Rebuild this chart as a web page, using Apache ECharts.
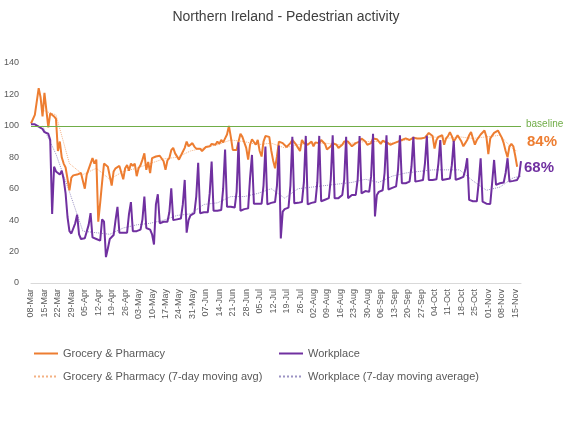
<!DOCTYPE html>
<html>
<head>
<meta charset="utf-8">
<script src="https://cdn.jsdelivr.net/npm/echarts@6/dist/echarts.min.js"></script>
<style>
html, body { margin: 0; padding: 0; background: #fff; }
#chart { width: 572px; height: 427px; }
</style>
</head>
<body>
<div id="chart"></div>
<script>
// daily labels from 08-Mar, one per day
var months = ['Jan','Feb','Mar','Apr','May','Jun','Jul','Aug','Sep','Oct','Nov','Dec'];
var dayLabels = [];
for (var i = 0; i < 256; i++) {
    var dt = new Date(2020, 2, 8 + i);
    var dd = dt.getDate() < 10 ? '0' + dt.getDate() : '' + dt.getDate();
    dayLabels.push(dd + '-' + months[dt.getMonth()]);
}

// Grocery & Pharmacy, % of baseline (ends two days before workplace)
var grocery = [
    101.5, 102, 107, 107, 124, 118, 106,
    121, 110, 99, 108, 109, 106, 104.5,
    84, 90, 80, 76, 73.5, 73, 59,
    67, 68.5, 68, 69, 70, 70, 69,
    60, 69, 72.5, 76, 79.5, 76, 78.5,
    39, 51, 64, 76, 75, 74, 73,
    62, 71, 73, 73.5, 74.5, 75, 66,
    73, 75, 71.5, 76, 74.5, 76, 68,
    73, 75, 78.5, 82.5, 72, 77, 70,
    79.5, 80.5, 80.5, 80.5, 81, 80, 77.5,
    72, 78, 79.5, 84.5, 86, 82.5, 82.5,
    78.5, 78, 83.5, 86, 90, 87, 88,
    89, 86.8, 85.5, 84.5, 85.5, 84, 83.5,
    86.5, 87.5, 87, 88.5, 89, 88, 90,
    88.5, 91, 89.5, 92, 94.5, 100, 92.8,
    84.7, 85.5, 84.7, 90, 95, 93, 92,
    86, 78.5, 88, 91.5, 90.5, 88, 91,
    84, 80.5, 90, 93.5, 94.5, 93, 84.5,
    78, 73, 80.5, 90, 91, 89, 88.5,
    86.5, 86, 89, 91, 91.5, 88, 86,
    84, 91, 89, 90, 88, 89, 90,
    87, 89.5, 90, 89, 91, 90, 88.5,
    85, 86, 87, 89, 90, 88, 86,
    85, 88, 90, 90.7, 90, 89.5, 87,
    86, 89, 89.5, 90, 92, 93, 90,
    88, 86.8, 89, 92, 92.5, 91.5, 91,
    88.5, 90.5, 90, 89.5, 89, 88, 87.5,
    89, 90, 90, 90.5, 91, 91, 92,
    91.5, 91, 92, 92.5, 92, 92, 92.5,
    92, 92.5, 92.5, 94, 95.5, 96, 93.5,
    85.5, 91, 93, 92.5, 94, 88, 92,
    93.5, 96, 93.5, 90, 92, 94, 95,
    90, 87, 89, 91, 94, 96, 92,
    88, 91, 92, 94.5, 93.5, 97, 93,
    82, 92, 93, 95.5, 94.5, 97, 96,
    92.5, 89, 84, 80, 87, 88.5, 87,
    81, 74
];

// Workplace, % of baseline
var workplace = [
    101, 101.5, 101, 100, 99.5, 99, 98,
    96, 95.5, 95, 91, 44, 74, 71,
    71, 69, 71.5, 66, 57, 42, 33,
    31.5, 31, 38, 43.5, 31, 28, 28,
    28.5, 29, 37, 44.5, 29, 28.5, 28,
    27.5, 27, 40.5, 39, 16.5, 22, 28,
    29, 30.5, 40, 48.5, 32, 32, 32,
    32, 32, 44, 51.5, 33, 33, 33,
    33, 34, 40.5, 55, 35, 34.5, 34,
    31, 24.5, 50, 56.5, 38, 39, 39,
    39, 39, 45, 60.3, 40, 40, 40.5,
    40.5, 41, 50, 65.6, 32, 40, 43,
    44, 44.4, 55, 76.5, 44.4, 44.5, 45,
    45, 45, 57, 77.3, 46, 46, 46,
    46.5, 46.5, 60, 85, 48.6, 48.6, 48.5,
    48.5, 48, 58, 89.5, 46, 46.5, 47,
    47, 47.5, 67, 81.5, 50.5, 50.5, 50.5,
    50.5, 50.5, 62, 86.8, 50, 50.5, 51,
    51, 51.5, 62, 87.5, 28.4, 45.4, 47,
    47.5, 48, 62, 93, 50.7, 51, 51,
    51.5, 51.5, 64, 93.6, 50, 50.5, 51,
    51, 51.5, 64, 93.6, 52, 52.5, 53,
    54, 54, 66, 94, 54, 53.5, 54,
    54.5, 56, 66, 93, 54, 54, 56,
    56, 56, 66, 93.5, 57, 58, 58.5,
    59, 58, 68, 95, 42.3, 56, 58,
    59, 59, 70, 94, 59.5, 60, 60.5,
    61, 61.5, 72, 94, 63.5, 63.5, 63.5,
    64, 64.5, 74, 93, 64.5, 65, 65,
    65.5, 65.5, 76, 93.6, 65.5, 65.5, 65.5,
    66, 66, 76, 91, 65.5, 65.5, 66,
    66, 66.5, 75, 90.5, 65.6, 66, 66.5,
    67, 67.5, 72, 79.4, 52.9, 52.5, 52,
    52, 52, 64, 79.4, 51.8, 51, 50.5,
    50.3, 50.3, 64, 78.3, 62.4, 63, 63.5,
    63.5, 64, 70, 79.4, 64.5, 65, 65,
    65.5, 65.6, 68, 77.5
];

// 7-day moving averages (day index, value)
var groceryAvgDays = [6, 13, 20, 27, 34, 41, 48, 55, 62, 69, 76, 83, 90, 97, 104, 111, 118, 125, 132, 139, 146, 153, 160, 167, 174, 181, 188, 195, 202, 209, 216, 223, 230, 237, 244, 251, 253];
var groceryAvg = [110, 107, 76, 69, 73, 66, 71, 73, 76, 79, 80, 84, 86, 88, 91, 90, 88, 89, 86, 88, 89, 89, 88, 89, 90, 90, 89, 91, 92, 93, 92, 93, 92, 93, 94, 85, 84];
var workplaceAvgDays = [6, 13, 20, 27, 34, 41, 48, 55, 62, 69, 76, 83, 90, 97, 104, 111, 118, 125, 132, 139, 146, 153, 160, 167, 174, 181, 188, 195, 202, 209, 216, 223, 230, 237, 244, 251, 255];
var workplaceAvg = [100, 82, 58, 33, 32, 31, 35, 37, 38, 40, 43, 44, 50, 51, 55, 55, 57, 60, 54, 60, 61, 62, 63, 64, 66, 64, 68, 70, 71, 72, 72, 72, 65, 59, 61, 67, 68];

var baseline = 100;

function pairs(days, vals) {
    var out = [];
    for (var i = 0; i < days.length; i++) out.push([days[i], vals[i]]);
    return out;
}

var myChart = echarts.init(document.getElementById('chart'));

// legend: one per item so the two columns line up like the original
var legendText = { fontSize: 11, color: '#595959', fontFamily: 'Liberation Sans' };
function legendItem(name, left, top) {
    return {
        data: [name], left: left, top: top,
        itemWidth: 24, itemHeight: 12,
        itemStyle: { opacity: 0 },
        textStyle: legendText,
        selectedMode: false
    };
}

var option = {
    animation: false,
    textStyle: { fontFamily: 'Liberation Sans' },
    title: {
        text: 'Northern Ireland - Pedestrian activity',
        left: 'center',
        top: 5,
        textStyle: { fontSize: 14, fontWeight: 'normal', color: '#404040' }
    },
    grid: { left: 31, right: 51, top: 63, bottom: 144 },
    legend: [
        legendItem('Grocery & Pharmacy', 28, 343),
        legendItem('Workplace', 273, 343),
        legendItem('Grocery & Pharmacy (7-day moving avg)', 28, 366),
        legendItem('Workplace (7-day moving average)', 273, 366)
    ],
    xAxis: {
        type: 'category',
        boundaryGap: false,
        data: dayLabels,
        axisLine: { lineStyle: { color: '#D9D9D9' } },
        axisTick: { show: false },
        axisLabel: { interval: 6, rotate: 90, fontSize: 9, color: '#595959', margin: 6 }
    },
    yAxis: {
        type: 'value',
        min: 0,
        max: 140,
        interval: 20,
        splitLine: { show: false },
        axisLine: { show: false },
        axisTick: { show: false },
        axisLabel: { fontSize: 9, color: '#595959', margin: 12 }
    },
    series: [
        {
            name: 'Grocery & Pharmacy',
            type: 'line',
            data: grocery,
            symbol: 'none',
            color: '#ED7D31',
            lineStyle: { color: '#ED7D31', width: 2 },
            z: 3,
            markLine: {
                silent: true,
                symbol: ['none', 'none'],
                label: { show: false },
                lineStyle: { color: '#70AD47', width: 1.2, type: 'solid' },
                data: [{ yAxis: baseline }]
            }
        },
        {
            name: 'Workplace',
            type: 'line',
            data: workplace,
            symbol: 'none',
            color: '#7030A0',
            lineStyle: { color: '#7030A0', width: 2 },
            z: 4
        },
        {
            name: 'Grocery & Pharmacy (7-day moving avg)',
            type: 'line',
            data: pairs(groceryAvgDays, groceryAvg),
            symbol: 'none',
            color: '#F4B183',
            lineStyle: { color: '#F4B183', width: 1, type: 'dotted' },
            z: 2
        },
        {
            name: 'Workplace (7-day moving average)',
            type: 'line',
            data: pairs(workplaceAvgDays, workplaceAvg),
            symbol: 'none',
            color: '#9C93C4',
            lineStyle: { color: '#9C93C4', width: 1, type: 'dotted' },
            z: 2
        }
    ],
    graphic: [
        { type: 'text', left: 526, top: 119, style: { text: 'baseline', fill: '#70AD47', fontSize: 10, fontFamily: 'Liberation Sans' } },
        { type: 'text', left: 527, top: 134, style: { text: '84%', fill: '#ED7D31', fontSize: 15, fontWeight: 'bold', fontFamily: 'Liberation Sans' } },
        { type: 'text', left: 524, top: 160, style: { text: '68%', fill: '#7030A0', fontSize: 15, fontWeight: 'bold', fontFamily: 'Liberation Sans' } }
    ]
};

myChart.setOption(option);
</script>
</body>
</html>
